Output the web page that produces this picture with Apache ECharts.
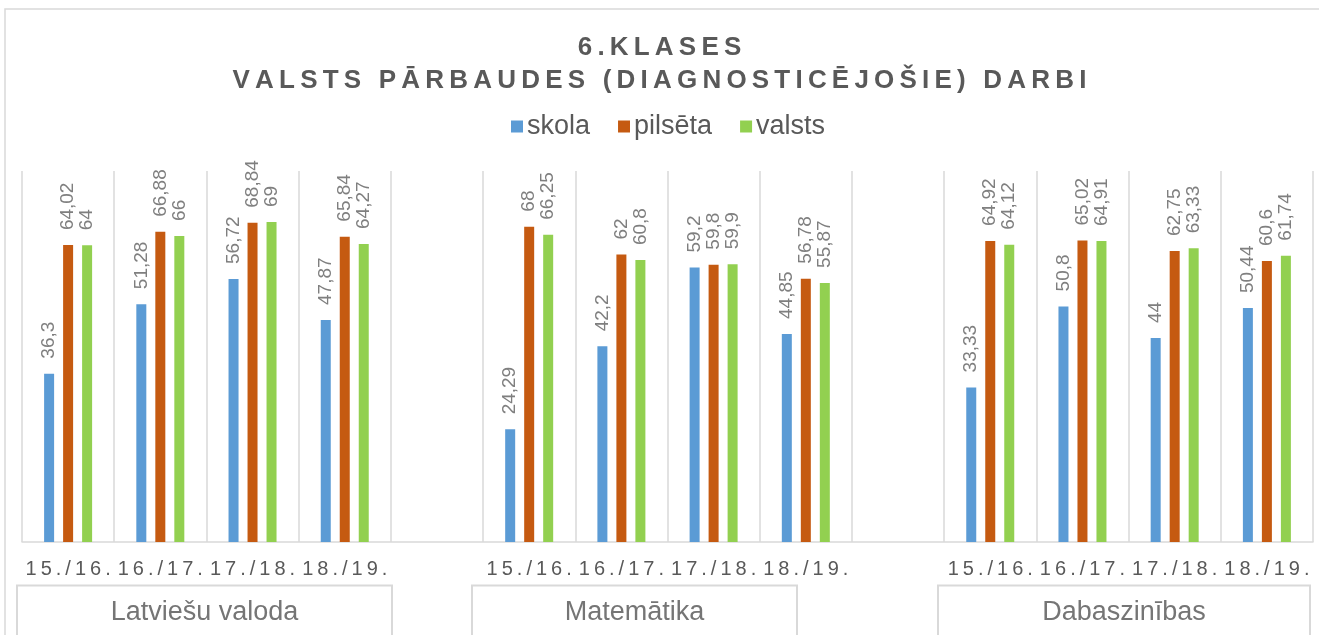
<!DOCTYPE html>
<html>
<head>
<meta charset="utf-8">
<script src="https://cdn.jsdelivr.net/npm/echarts@6/dist/echarts.min.js"></script>
<style>
  html, body { margin: 0; padding: 0; background: #fff; }
  #chart { width: 1319px; height: 635px; }
</style>
</head>
<body>
<div id="chart"></div>
<script>
// 3 subjects x 4 school years, empty slot between subjects
const categories = [
  '15./16.', '16./17.', '17./18.', '18./19.', '',
  '15./16.', '16./17.', '17./18.', '18./19.', '',
  '15./16.', '16./17.', '17./18.', '18./19.'
]
const skola = [36.3, 51.28, 56.72, 47.87, null, 24.29, 42.2, 59.2, 44.85, null, 33.33, 50.8, 44, 50.44]
const pilseta = [64.02, 66.88, 68.84, 65.84, null, 68, 62, 59.8, 56.78, null, 64.92, 65.02, 62.75, 60.6]
const valsts = [64, 66, 69, 64.27, null, 66.25, 60.8, 59.9, 55.87, null, 64.12, 64.91, 63.33, 61.74]
const groups = ['Latviešu valoda', 'Matemātika', 'Dabaszinības']

const FONT = '"Liberation Sans", Arial, sans-serif'

// no letterSpacing in echarts text, so pad chars by hand
function spaced(s, sep) {
  return s.split('').join(sep)
}

function fmt(v) {
  return v == null ? '' : String(v).replace('.', ',')
}

const chart = echarts.init(document.getElementById('chart'))

function barSeries(name, data, color) {
  return {
    name,
    type: 'bar',
    data,
    barWidth: 10,
    barGap: '90%',
    itemStyle: { color },
    label: {
      show: true,
      position: 'top',
      rotate: 90,
      align: 'left',
      verticalAlign: 'middle',
      distance: 15,
      color: '#7f7f7f',
      fontSize: 19,
      fontFamily: FONT,
      formatter: (p) => fmt(p.value),
    },
  }
}

// boxes under the year labels (x from, x to)
const boxes = [[17, 392], [472, 797], [938, 1310]]

chart.setOption({
  animation: false,
  textStyle: { fontFamily: FONT },
  title: {
    text: spaced('6.KLASES', '\u2009') + '\n' + spaced('VALSTS PĀRBAUDES (DIAGNOSTICĒJOŠIE) DARBI', '\u2009'),
    left: 'center',
    top: 26,
    textStyle: {
      fontSize: 26,
      fontWeight: 'bold',
      color: '#595959',
      lineHeight: 33,
      fontFamily: FONT,
    },
  },
  legend: {
    left: 506,
    top: 108,
    icon: 'rect',
    itemWidth: 12,
    itemHeight: 12,
    itemGap: 28,
    textStyle: { fontSize: 27, color: '#595959', fontFamily: FONT, padding: [0, 0, 0, -1] },
    data: ['skola', 'pilsēta', 'valsts'],
  },
  grid: { left: 22, right: 6, top: 171, bottom: 93, containLabel: false },
  xAxis: {
    type: 'category',
    data: categories,
    axisLine: { lineStyle: { color: '#d9d9d9', width: 1.5 } },
    axisTick: { show: false },
    splitLine: { show: true, lineStyle: { color: '#d9d9d9', width: 1.5 } },
    axisLabel: {
      interval: 0,
      margin: 17,
      fontSize: 20,
      color: '#595959',
      fontFamily: FONT,
      formatter: (v) => spaced(v, '\u2009'),
    },
  },
  yAxis: {
    type: 'value',
    min: 0,
    max: 80,
    show: false,
    splitLine: { show: false },
  },
  series: [
    barSeries('skola', skola, '#5b9bd5'),
    barSeries('pilsēta', pilseta, '#c55a11'),
    barSeries('valsts', valsts, '#92d050'),
  ],
  graphic: [
    {
      type: 'rect',
      shape: { x: 5, y: 9, width: 1330, height: 640 },
      style: { fill: 'none', stroke: '#d9d9d9', lineWidth: 1.5 },
      silent: true,
    },
    ...groups.map((g, i) => ({
      type: 'group',
      children: [
        {
          type: 'rect',
          shape: { x: boxes[i][0], y: 585.5, width: boxes[i][1] - boxes[i][0], height: 70 },
          style: { fill: 'none', stroke: '#d9d9d9', lineWidth: 2 },
        },
        {
          type: 'text',
          x: (boxes[i][0] + boxes[i][1]) / 2,
          y: 613,
          style: {
            text: g,
            fill: '#757575',
            fontSize: 27,
            fontFamily: FONT,
            align: 'center',
            verticalAlign: 'middle',
          },
        },
      ],
    })),
  ],
})

window.addEventListener('resize', () => chart.resize())
</script>
</body>
</html>
